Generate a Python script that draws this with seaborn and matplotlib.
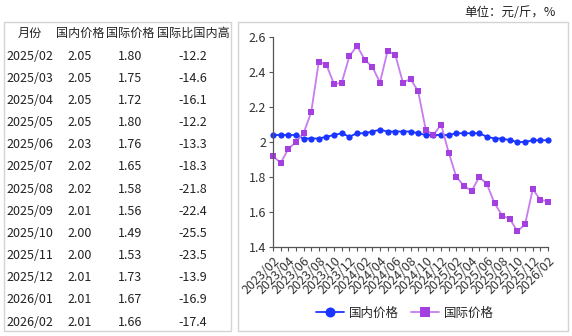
import matplotlib
matplotlib.use("Agg")
import matplotlib.pyplot as plt
from matplotlib.patches import Rectangle
import pandas as pd
import seaborn as sns

# Monthly series, 2023/02 - 2026/02
months = [
    "2023/02", "2023/03", "2023/04", "2023/05", "2023/06", "2023/07", "2023/08",
    "2023/09", "2023/10", "2023/11", "2023/12", "2024/01", "2024/02", "2024/03",
    "2024/04", "2024/05", "2024/06", "2024/07", "2024/08", "2024/09", "2024/10",
    "2024/11", "2024/12", "2025/01", "2025/02", "2025/03", "2025/04", "2025/05",
    "2025/06", "2025/07", "2025/08", "2025/09", "2025/10", "2025/11", "2025/12",
    "2026/01", "2026/02",
]
domestic = [
    2.04, 2.04, 2.04, 2.04, 2.02, 2.02, 2.02, 2.03, 2.04, 2.05, 2.03, 2.05, 2.05,
    2.06, 2.07, 2.06, 2.06, 2.06, 2.06, 2.05, 2.04, 2.04, 2.04, 2.04, 2.05, 2.05,
    2.05, 2.05, 2.03, 2.02, 2.02, 2.01, 2.00, 2.00, 2.01, 2.01, 2.01,
]
international = [
    1.92, 1.88, 1.96, 2.00, 2.05, 2.17, 2.46, 2.44, 2.33, 2.34, 2.49, 2.55, 2.47,
    2.43, 2.34, 2.52, 2.50, 2.34, 2.36, 2.29, 2.07, 2.04, 2.10, 1.94, 1.80, 1.75,
    1.72, 1.80, 1.76, 1.65, 1.58, 1.56, 1.49, 1.53, 1.73, 1.67, 1.66,
]
# Gap of international over domestic price (%), last 13 months
gap_pct = [-12.2, -14.6, -16.1, -12.2, -13.3, -18.3, -21.8, -22.4, -25.5, -23.5, -13.9, -16.9, -17.4]

table_header = ["月份", "国内价格", "国际价格", "国际比国内高"]
series_names = ["国内价格", "国际价格"]
unit_text = "单位：元/斤，%"

sns.set_theme(style="ticks")
plt.rcParams["font.family"] = ["Noto Sans CJK SC", "DejaVu Sans"]

W, H = 572, 336
fig = plt.figure(figsize=(W / 100, H / 100), dpi=100)

def fx(px):
    return px / W

def fy(py):
    return 1 - py / H

# panel frames
border = "#d4d4d4"
fig.patches.append(Rectangle((fx(4), fy(331)), fx(227), 309 / H, transform=fig.transFigure,
                             fill=False, edgecolor=border, linewidth=1.0))
fig.patches.append(Rectangle((fx(238), fy(331)), fx(330), 309 / H, transform=fig.transFigure,
                             fill=False, edgecolor=border, linewidth=1.0))

fig.text(fx(556), fy(12), unit_text, ha="right", va="center", fontsize=9, color="#222222")

# table
n_rows = len(gap_pct)
t_months = months[-n_rows:]
t_dom = domestic[-n_rows:]
t_int = international[-n_rows:]
col_x = [30, 80, 130, 193]
head_y = 33
row_y0, row_dy = 56, 22.17
for cx, h in zip(col_x, table_header):
    fig.text(fx(cx), fy(head_y), h, ha="center", va="center", fontsize=8.7, color="#222222")
for i in range(n_rows):
    y = fy(row_y0 + i * row_dy)
    cells = [t_months[i], f"{t_dom[i]:.2f}", f"{t_int[i]:.2f}", f"{gap_pct[i]:.1f}"]
    for cx, c in zip(col_x, cells):
        fig.text(fx(cx), y, c, ha="center", va="center", fontsize=9, color="#222222")

# chart
ax = fig.add_axes([fx(273), fy(247), fx(548 - 273), (247 - 37) / H])
df = pd.DataFrame({"idx": range(len(months)), "month": months,
                   series_names[0]: domestic, series_names[1]: international})

blue = "#1a35ff"
purple_line = "#c77cf0"
purple_mark = "#a540e0"
sns.lineplot(data=df, x="idx", y=series_names[0], ax=ax, color=blue, linewidth=1.3,
             marker="o", markersize=4.5, markeredgewidth=0, markerfacecolor=blue,
             label=series_names[0], clip_on=False)
sns.lineplot(data=df, x="idx", y=series_names[1], ax=ax, color=purple_line, linewidth=1.3,
             marker="s", markersize=4.5, markeredgewidth=0, markerfacecolor=purple_mark,
             label=series_names[1], clip_on=False)

ax.set_ylim(1.4, 2.6)
ax.set_xlim(0, len(months) - 1)
yt = [1.4, 1.6, 1.8, 2.0, 2.2, 2.4, 2.6]
ax.set_yticks(yt)
ax.set_yticklabels([f"{v:g}" for v in yt])
ax.set_xticks(range(len(months)))
ax.set_xticklabels([m if i % 2 == 0 else "" for i, m in enumerate(months)],
                   rotation=45, ha="right", rotation_mode="anchor")
ax.tick_params(axis="x", labelsize=9, length=3, width=0.8, color="#555555", pad=2)
ax.tick_params(axis="y", labelsize=9, length=3, width=0.8, color="#555555", pad=2)
for lbl in ax.get_xticklabels() + ax.get_yticklabels():
    lbl.set_color("#333333")
ax.set_xlabel("")
ax.set_ylabel("")
for s in ["top", "right"]:
    ax.spines[s].set_visible(False)
for s in ["left", "bottom"]:
    ax.spines[s].set_color("#555555")
    ax.spines[s].set_linewidth(0.9)
ax.patch.set_alpha(0)

handles, labels = ax.get_legend_handles_labels()
ax.get_legend().remove()
leg = fig.legend(handles, labels, loc="center", ncol=2, frameon=False,
                 bbox_to_anchor=(fx(405), fy(313)), fontsize=9, handlelength=2.2,
                 columnspacing=1.0, handletextpad=0.4, markerscale=1.6)

fig.savefig("out.png", dpi=100)
